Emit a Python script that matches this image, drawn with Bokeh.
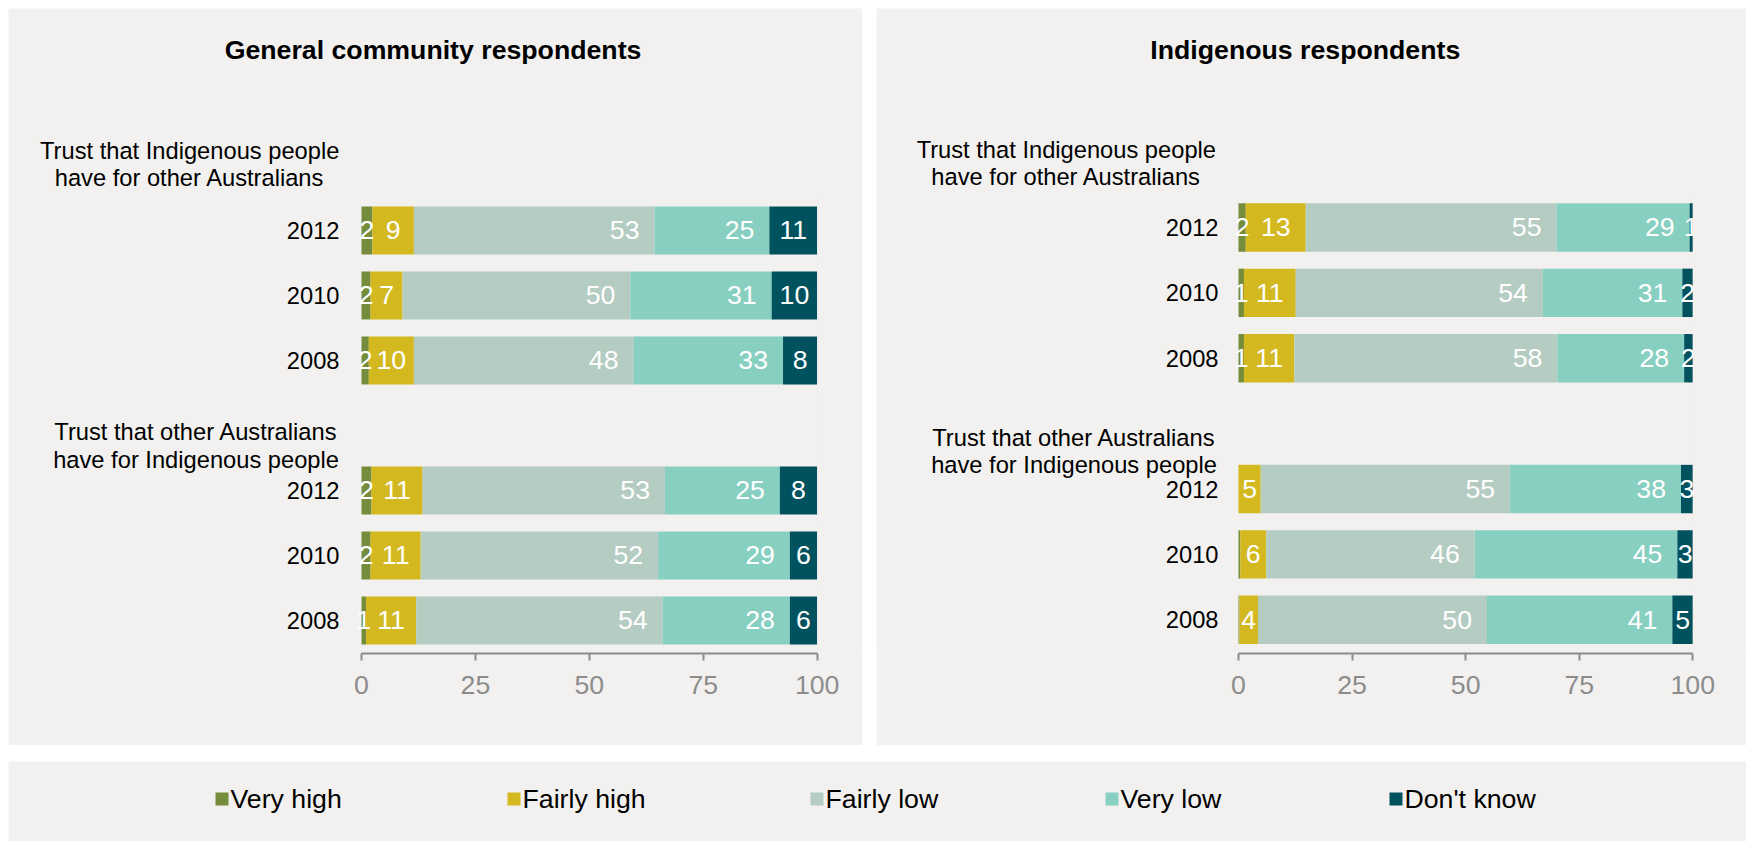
import numpy as np
from bokeh.plotting import figure
from bokeh.models import Range1d, FixedTicker, ColumnDataSource, Spacer
from bokeh.layouts import row, column
from bokeh.embed import file_html
from bokeh.resources import INLINE
from bokeh.core.properties import value

# ---------------- data ----------------
categories = ["Very high", "Fairly high", "Fairly low", "Very low", "Don't know"]
colors = ["#748C3C", "#D3B91F", "#B5CCC2", "#87CFC0", "#00525E"]
years = ["2012", "2010", "2008"]
group_labels = [("Trust that Indigenous people", "have for other Australians"),
                ("Trust that other Australians", "have for Indigenous people")]
panel_titles = ["General community respondents", "Indigenous respondents"]

# rows: group 1 (2012, 2010, 2008), group 2 (2012, 2010, 2008)
gen_very_high   = [2.4, 2.0, 1.6, 2.2, 2.0, 1.0]
gen_fairly_high = [9.1, 7.0, 9.9, 11.2, 11.0, 11.0]
gen_fairly_low  = [52.8, 50.0, 48.2, 53.2, 52.1, 54.1]
gen_very_low    = [25.2, 31.0, 32.8, 25.2, 28.9, 27.9]
gen_dont_know   = [10.5, 10.0, 7.5, 8.2, 6.0, 6.0]

ind_very_high   = [1.6, 1.2, 1.2, 0.0, 0.4, 0.2]
ind_fairly_high = [13.2, 11.4, 11.1, 4.9, 5.7, 4.1]
ind_fairly_low  = [55.2, 54.4, 57.9, 54.9, 45.9, 50.4]
ind_very_low    = [29.3, 30.7, 27.9, 37.6, 44.6, 40.8]
ind_dont_know   = [0.7, 2.3, 1.9, 2.6, 3.4, 4.5]

gen_series = [gen_very_high, gen_fairly_high, gen_fairly_low, gen_very_low, gen_dont_know]
ind_series = [ind_very_high, ind_fairly_high, ind_fairly_low, ind_very_low, ind_dont_know]

# ---------------- style ----------------
BG = "#F2F1EF"
FONT = "Liberation Sans"
ROW_POS = [0, 1, 2, 4, 5, 6]


def make_panel(series, title, width, height, mb_bottom, x_start, x_end,
               y_bottom, y_top, bar_h, title_xy, group_xs, group_ys, year_off):
    p = figure(width=width, height=height, x_range=Range1d(x_start, x_end),
               y_range=Range1d(y_bottom, y_top), output_backend="svg",
               toolbar_location=None, y_axis_location=None,
               min_border_left=0, min_border_right=0,
               min_border_top=0, min_border_bottom=mb_bottom)
    p.background_fill_color = BG
    p.border_fill_color = BG
    p.outline_line_color = None
    p.grid.visible = False

    arr = np.array(series, dtype=float)
    rights = np.cumsum(arr, axis=0)
    lefts = rights - arr
    ys = np.array(ROW_POS, dtype=float)

    cx, cy, ct = [], [], []
    rx, ry, rt = [], [], []
    for k in range(arr.shape[0]):
        src = ColumnDataSource(dict(y=ys, left=lefts[k], right=rights[k]))
        p.hbar(y="y", left="left", right="right", height=bar_h, source=src,
               fill_color=colors[k], line_color=None)
        for i in range(arr.shape[1]):
            v = arr[k, i]
            lab = int(v + 0.5)
            if lab < 1:
                continue
            if v >= 20:
                rx.append(rights[k, i]); ry.append(ys[i]); rt.append(str(lab))
            else:
                cx.append((lefts[k, i] + rights[k, i]) / 2); cy.append(ys[i]); ct.append(str(lab))

    p.text(x=cx, y=cy, text=ct, text_align="center", text_baseline="middle",
           text_color="white", text_font=value(FONT), text_font_size="26.7px")
    p.text(x=rx, y=ry, text=rt, text_align="right", text_baseline="middle", x_offset=-15,
           text_color="white", text_font=value(FONT), text_font_size="26.7px")

    # labels are cut at the plot-area edge (x = 100) as in the original chart
    p.quad(left=[100], right=[x_end], bottom=[ROW_POS[-1] + 0.5], top=[ROW_POS[0] - 0.5],
           fill_color=BG, line_color=None)

    # year labels (left of the bars)
    p.text(x=[0] * len(ROW_POS), y=ROW_POS, text=[years[i % 3] for i in range(len(ROW_POS))],
           x_offset=year_off, text_align="right", text_baseline="middle",
           text_color="#000000", text_font=value(FONT), text_font_size="23.7px")

    # group labels
    for g, (l1, l2) in enumerate(group_labels):
        first = ROW_POS[g * 3]
        p.text(x=[group_xs[g]] * 2, y=[first + group_ys[g][0], first + group_ys[g][1]],
               text=[l1, l2], text_align="center", text_baseline="alphabetic",
               text_color="#000000", text_font=value(FONT), text_font_size="23.7px")

    # panel title
    p.text(x=[title_xy[0]], y=[title_xy[1]], text=[title], text_align="center",
           text_baseline="alphabetic", text_color="#000000", text_font=value(FONT),
           text_font_size="26.7px", text_font_style="bold")

    # x axis
    xa = p.xaxis[0]
    xa.bounds = (0, 100)
    xa.ticker = FixedTicker(ticks=[0, 25, 50, 75, 100])
    xa.axis_line_color = "#8C8C8C"
    xa.axis_line_width = 2
    xa.major_tick_line_color = "#8C8C8C"
    xa.major_tick_line_width = 2
    xa.major_tick_in = 0
    xa.major_tick_out = 7
    xa.minor_tick_line_color = None
    xa.major_label_text_color = "#8C8C8C"
    xa.major_label_text_font = FONT
    xa.major_label_text_font_size = "26.7px"
    xa.major_label_standoff = 15
    return p


# left panel: 854 x 737, x=0 at 353 px, x=100 at 808.7 px, axis at 645 px, rows 65 px apart
left = make_panel(gen_series, panel_titles[0], 854, 737, 92, -77.46, 109.94,
                  6.508, -3.415, 0.738, (15.7, -2.775), (-37.7, -36.3),
                  ((-1.218, -0.80), (-0.905, -0.475)), -22)
# right panel: 870 x 737, x=0 at 362 px, x=100 at 816.3 px, axis at 651 px, rows 66 px apart
right = make_panel(ind_series, panel_titles[1], 870, 737, 86, -79.68, 111.82,
                   6.515, -3.348, 0.74, (14.7, -2.72), (-37.9, -36.2),
                   ((-1.19, -0.77), (-0.78, -0.37)), -20)

# ---------------- legend ----------------
leg = figure(width=1738, height=80, x_range=Range1d(0, 1738), y_range=Range1d(0, 80),
             output_backend="svg", toolbar_location=None,
             min_border_left=0, min_border_right=0, min_border_top=0, min_border_bottom=0)
leg.background_fill_color = BG
leg.border_fill_color = BG
leg.outline_line_color = None
leg.grid.visible = False
leg.axis.visible = False
sq_left = np.array([207, 499, 802, 1097, 1381], dtype=float)
leg.rect(x=sq_left + 6.5, y=[42.5] * 5, width=13, height=13, fill_color=colors, line_color=None)
leg.text(x=sq_left + 15, y=[42.5] * 5, text=categories, text_align="left",
         text_baseline="middle", text_color="#000000", text_font=value(FONT),
         text_font_size="26.7px")

content = column(row(left, Spacer(width=14, height=737), right),
                 Spacer(width=1738, height=16), leg)
layout = column(Spacer(width=1746, height=8), row(Spacer(width=8, height=833), content))

open("out.html", "w").write(file_html(layout, INLINE))
